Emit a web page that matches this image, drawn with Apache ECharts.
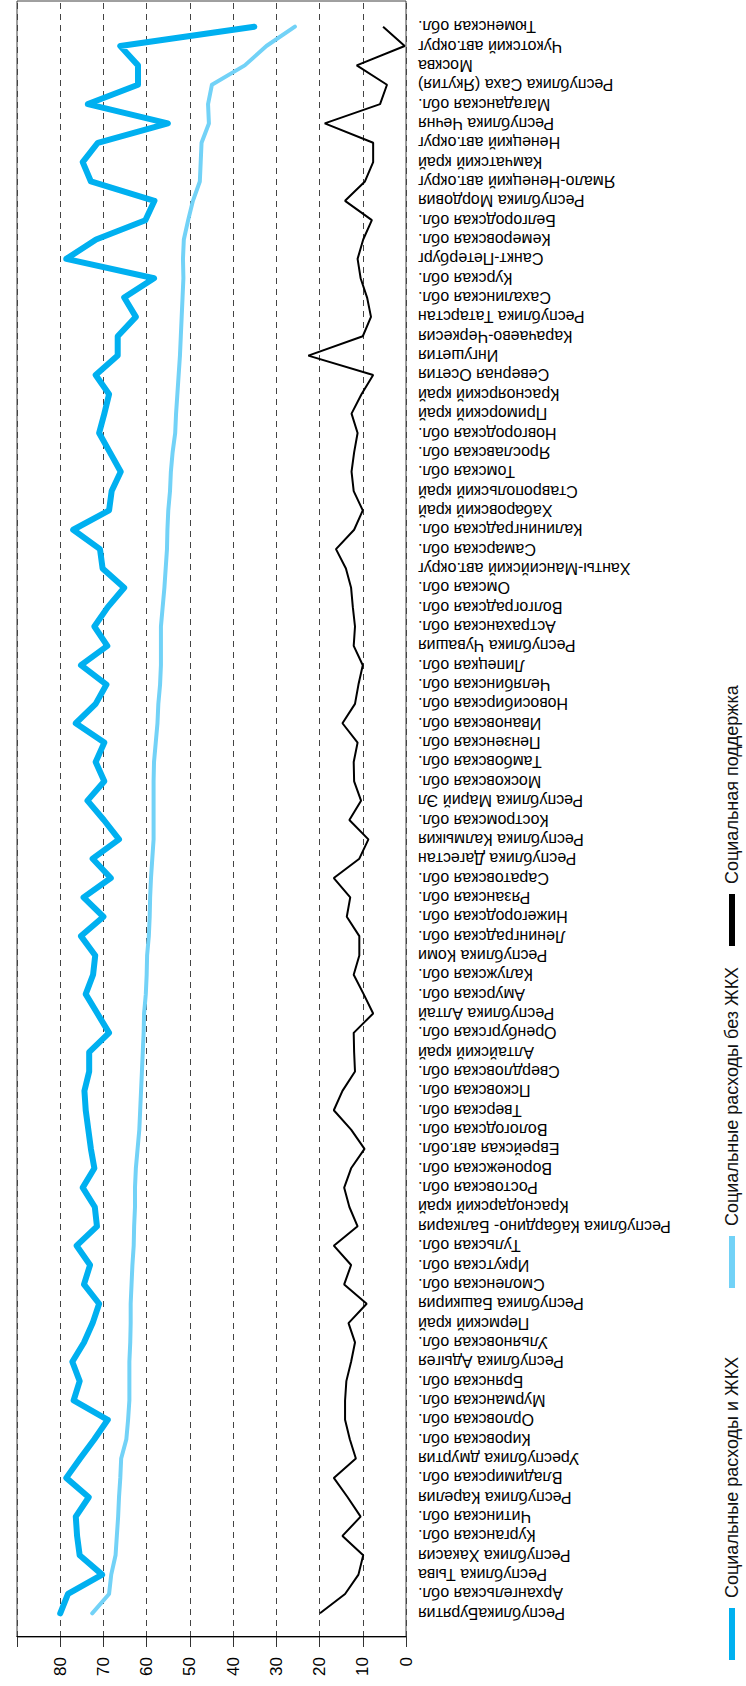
<!DOCTYPE html>
<html>
<head>
<meta charset="utf-8">
<script src="https://cdn.jsdelivr.net/npm/echarts@6/dist/echarts.min.js"></script>
<style>
  html, body { margin: 0; padding: 0; background: #fff; overflow: hidden; }
  /* chart is drawn landscape, then turned a quarter turn to the left like the reference */
  #chart {
    position: absolute; left: 0; top: 0;
    width: 1686px; height: 746px;
    transform-origin: 0 0;
    transform: translateY(1686px) rotate(-90deg);
  }
</style>
</head>
<body>
<div id="chart"></div>
<script>
// regions, first one is at the bottom of the picture
var regions = [
  "РеспубликаБурятия", "Архангельская обл.", "Республика Тыва", "Республика Хакасия", "Курганская обл.",
  "Читинская обл.", "Республика Карелия", "Владимирская обл.", "Уреспублика дмуртия", "Кировская обл.",
  "Орловская обл.", "Мурманская обл.", "Брянская обл.", "Республика Адыгея", "Ульяновская обл.",
  "Пермский край", "Республика Башкирия", "Смоленская обл.", "Иркутская обл.", "Тульская обл.",
  "Республика Кабардино- Балкария", "Краснодарский край", "Ростовская обл.", "Воронежская обл.", "Еврейская авт.обл.",
  "Вологодская обл.", "Тверская обл.", "Псковская обл.", "Свердловская обл.", "Алтайский край",
  "Оренбургская обл.", "Республика Алтай", "Амурская обл.", "Калужская обл.", "Республика Коми",
  "Ленинградская обл.", "Нижегородская обл.", "Рязанская обл.", "Саратовская обл.", "Республика Дагестан",
  "Республика Калмыкия", "Костромская обл.", "Республика Марий Эл", "Московская обл.", "Тамбовская обл.",
  "Пензенская обл.", "Ивановская обл.", "Новосибирская обл.", "Челябинская обл.", "Липецкая обл.",
  "Республика Чувашия", "Астраханская обл.", "Волгоградская обл.", "Омская обл.", "Ханты-Мансийский авт.округ",
  "Самарская обл.", "Калининградская обл.", "Хабаровский край", "Ставропольский край", "Томская обл.",
  "Ярославская обл.", "Новгородская обл.", "Приморский край", "Красноярский край", "Северная Осетия",
  "Ингушетия", "Карачаево-Черкесия", "Республика Татарстан", "Сахалинская обл.", "Курская обл.",
  "Санкт-Петербург", "Кемеровская обл.", "Белгородская обл.", "Республика Мордовия", "Ямало-Ненецкий авт.округ",
  "Камчатский край", "Ненецкий авт.округ", "Республика Чечня", "Магаданская обл.", "Республика Саха (Якутия)",
  "Москва", "Чукотский авт.округ", "Тюменская обл."
];

var seriesNames = ["Социальные расходы и ЖКХ", "Социальные расходы без ЖКХ", "Социальная поддержка"];

var withHousing = [
  80.0, 78.2, 70.3, 75.5, 76.1, 76.4, 73.4, 78.6, 75.4, 72.1,
  69.0, 76.9, 75.5, 77.2, 74.5, 72.5, 71.0, 74.5, 73.1, 76.2,
  71.5, 72.0, 74.8, 72.1, 72.9, 73.5, 74.1, 74.4, 73.3, 73.3,
  68.7, 71.4, 74.1, 72.4, 71.9, 75.2, 70.0, 74.6, 68.3, 72.5,
  66.4, 69.9, 73.7, 69.8, 71.8, 69.8, 76.4, 71.8, 69.3, 75.2,
  69.1, 72.1, 69.0, 65.2, 70.2, 70.8, 77.0, 68.7, 68.1, 66.0,
  68.5, 71.0, 69.8, 68.7, 71.8, 66.7, 66.7, 62.5, 65.2, 58.3,
  78.6, 71.7, 60.3, 58.2, 72.9, 74.8, 71.3, 55.1, 73.6, 62.0,
  62.0, 66.1, 35.1
];

var withoutHousing = [
  72.6, 68.7, 68.2, 67.2, 66.9, 66.6, 66.4, 66.1, 65.9, 64.7,
  64.3, 64.0, 64.0, 64.0, 63.8, 63.7, 63.7, 63.5, 63.3, 63.0,
  62.9, 62.7, 62.7, 62.5, 62.1, 61.7, 61.5, 61.3, 61.1, 60.9,
  60.7, 60.6, 60.2, 60.0, 59.9, 59.5, 59.3, 59.2, 59.0, 58.7,
  58.4, 58.4, 58.4, 58.4, 58.3, 57.9, 57.5, 57.3, 56.9, 56.7,
  56.7, 56.7, 56.3, 55.9, 55.6, 55.3, 55.2, 55.0, 54.6, 54.4,
  54.0, 53.4, 53.2, 52.9, 52.6, 52.3, 52.1, 51.9, 51.7, 51.5,
  51.6, 51.4, 50.4, 49.3, 47.7, 47.5, 47.3, 45.6, 45.8, 44.9,
  37.3, 32.3, 25.7
];

var socialSupport = [
  19.9, 14.1, 11.0, 9.9, 14.7, 10.5, 13.5, 16.7, 11.6, 13.0,
  14.1, 14.1, 13.8, 12.7, 11.8, 13.3, 9.1, 14.3, 12.7, 16.7,
  11.2, 13.1, 14.3, 12.7, 9.6, 12.7, 16.7, 14.7, 11.8, 12.0,
  12.1, 7.6, 9.8, 12.1, 10.8, 10.8, 13.7, 12.9, 16.7, 10.8,
  8.7, 13.1, 10.4, 12.0, 12.1, 11.2, 14.7, 11.8, 11.0, 10.0,
  12.1, 11.8, 12.3, 12.7, 13.9, 16.2, 12.0, 10.0, 12.1, 12.6,
  12.0, 11.2, 12.6, 10.3, 7.6, 22.6, 10.0, 8.1, 9.0, 10.5,
  11.2, 9.9, 7.9, 14.1, 9.5, 7.6, 7.6, 18.8, 6.0, 4.4,
  11.4, 0.3, 5.3
];

var valueMin = 0, valueMax = 90, valueStep = 10;
var colors = ["#00b0f0", "#72d2f7", "#000000"];

var chart = echarts.init(document.getElementById("chart"), null, { renderer: "svg" });

var legendLeft = [26, 398, 740];
var legends = [];
for (var i = 0; i < seriesNames.length; i++) {
  legends.push({
    data: [seriesNames[i]],
    left: legendLeft[i],
    top: 723,
    padding: 0,
    icon: "rect",
    itemWidth: 52,
    itemHeight: 6,
    selectedMode: false,
    textStyle: { fontSize: 18, lineHeight: 18, color: "#111", padding: [0, 0, 0, 5] }
  });
}

var option = {
  animation: false,
  backgroundColor: "#fff",
  textStyle: { fontFamily: "Liberation Sans, Arial, sans-serif" },
  color: colors,
  legend: legends,
  grid: [
    // frame + value axis
    { left: 49, right: 1, top: 17, bottom: 340, show: true, borderColor: "#404040", borderWidth: 1 },
    // data area, a bit narrower so the end points sit inside the frame
    { left: 63, right: 17, top: 17, bottom: 340 }
  ],
  xAxis: [
    { gridIndex: 0, type: "category", data: regions, show: false },
    {
      gridIndex: 1,
      type: "category",
      data: regions,
      boundaryGap: true,
      axisLine: { show: false },
      axisTick: { show: false },
      axisLabel: { interval: 0, rotate: 90, fontSize: 16, margin: 12, color: "#000" }
    }
  ],
  yAxis: [
    {
      gridIndex: 0,
      type: "value",
      min: valueMin,
      max: valueMax,
      interval: valueStep,
      axisLine: { show: true, lineStyle: { color: "#000", width: 1 } },
      axisTick: { show: true, length: 10, lineStyle: { color: "#333" } },
      axisLabel: {
        fontSize: 17,
        margin: 20,
        color: "#000",
        formatter: function (v) { return v === valueMax ? "" : v; }
      },
      splitLine: { show: true, lineStyle: { type: [6, 5], color: "#444", width: 1 } }
    },
    { gridIndex: 1, type: "value", min: valueMin, max: valueMax, show: false }
  ],
  series: [
    {
      name: seriesNames[0], type: "line", xAxisIndex: 1, yAxisIndex: 1,
      data: withHousing, symbol: "none",
      itemStyle: { color: colors[0] },
      lineStyle: { color: colors[0], width: 6, cap: "round", join: "round" }
    },
    {
      name: seriesNames[1], type: "line", xAxisIndex: 1, yAxisIndex: 1,
      data: withoutHousing, symbol: "none",
      itemStyle: { color: colors[1] },
      lineStyle: { color: colors[1], width: 4, cap: "round", join: "round" }
    },
    {
      name: seriesNames[2], type: "line", xAxisIndex: 1, yAxisIndex: 1,
      data: socialSupport, symbol: "none",
      itemStyle: { color: colors[2] },
      lineStyle: { color: colors[2], width: 2 }
    }
  ]
};

chart.setOption(option);
</script>
</body>
</html>
